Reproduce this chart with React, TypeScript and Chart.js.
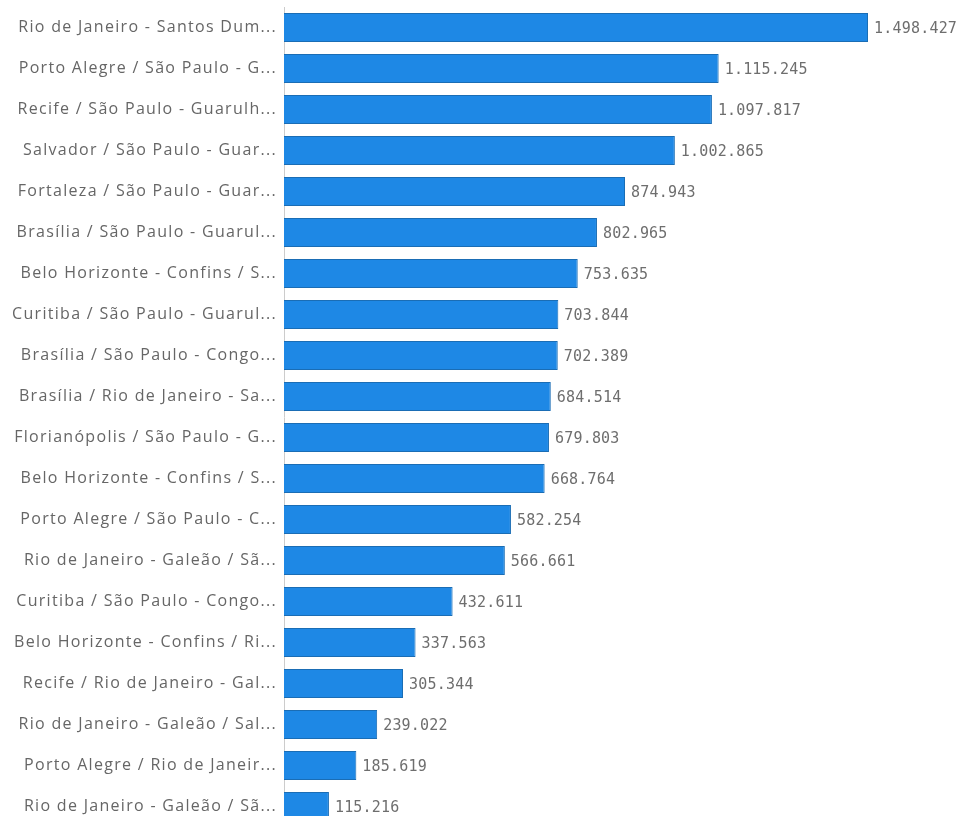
import React, { useEffect, useRef } from "react";
import { Chart, registerables } from "chart.js";

Chart.register(...registerables);

const categories: string[] = [
  "Rio de Janeiro - Santos Dum...",
  "Porto Alegre / São Paulo - G...",
  "Recife / São Paulo - Guarulh...",
  "Salvador / São Paulo - Guar...",
  "Fortaleza / São Paulo - Guar...",
  "Brasília / São Paulo - Guarul...",
  "Belo Horizonte - Confins / S...",
  "Curitiba / São Paulo - Guarul...",
  "Brasília / São Paulo - Congo...",
  "Brasília / Rio de Janeiro - Sa...",
  "Florianópolis / São Paulo - G...",
  "Belo Horizonte - Confins / S...",
  "Porto Alegre / São Paulo - C...",
  "Rio de Janeiro - Galeão / Sã...",
  "Curitiba / São Paulo - Congo...",
  "Belo Horizonte - Confins / Ri...",
  "Recife / Rio de Janeiro - Gal...",
  "Rio de Janeiro - Galeão / Sal...",
  "Porto Alegre / Rio de Janeir...",
  "Rio de Janeiro - Galeão / Sã...",
];

const passengers: number[] = [
  1498427, 1115245, 1097817, 1002865, 874943, 802965, 753635, 703844, 702389,
  684514, 679803, 668764, 582254, 566661, 432611, 337563, 305344, 239022,
  185619, 115216,
];

const X_MAX = 1737000;
const LABEL_SPACING = "1.3px";

const fmt = (v: number) => String(Math.round(v)).replace(/\B(?=(\d{3})+(?!\d))/g, ".");

const spacing = {
  id: "spacing",
  beforeLayout(chart: any) {
    chart.ctx.letterSpacing = LABEL_SPACING;
  },
  beforeDraw(chart: any) {
    chart.ctx.letterSpacing = LABEL_SPACING;
  },
};

const valueLabels = {
  id: "valueLabels",
  afterDatasetsDraw(chart: any) {
    const ctx = chart.ctx;
    const meta = chart.getDatasetMeta(0);
    ctx.save();
    ctx.letterSpacing = "0.2px";
    ctx.font = '15px "DejaVu Sans Mono"';
    ctx.fillStyle = "#6e6e6e";
    ctx.textAlign = "left";
    ctx.textBaseline = "middle";
    meta.data.forEach((el: any, i: number) => {
      const v = chart.data.datasets[0].data[i] as number;
      ctx.fillText(fmt(v), el.x + 6, el.y + 1.5);
    });
    ctx.restore();
  },
};

export default function App() {
  const ref = useRef<HTMLCanvasElement>(null);
  useEffect(() => {
    if (!ref.current) return;
    const chart = new Chart(ref.current, {
      type: "bar",
      data: {
        labels: categories,
        datasets: [
          {
            data: passengers,
            backgroundColor: "#1e88e5",
            borderColor: "#1a6db5",
            borderWidth: 1,
            barPercentage: 0.71,
            categoryPercentage: 1,
          },
        ],
      },
      options: {
        indexAxis: "y",
        animation: false,
        responsive: true,
        maintainAspectRatio: false,
        layout: { padding: { top: 7, right: 0, bottom: 0, left: 0 } },
        plugins: { legend: { display: false }, tooltip: { enabled: false } },
        scales: {
          x: { display: false, min: 0, max: X_MAX },
          y: {
            afterFit: (scale: any) => {
              scale.width = 284;
              scale.paddingTop = 0;
              scale.paddingBottom = 0;
            },
            grid: { display: false, drawTicks: false },
            border: { display: true, color: "#cccccc", width: 1 },
            ticks: {
              padding: 7,
              color: "#666666",
              font: { family: '"Open Sans"', size: 16 },
            },
          },
        },
      },
      plugins: [spacing, valueLabels],
    });
    return () => chart.destroy();
  }, []);
  return (
    <div style={{ position: "fixed", left: 0, top: 0, width: 961, height: 816, overflow: "hidden", background: "#fff" }}>
      <div style={{ position: "relative", width: 961, height: 827 }}>
        <canvas ref={ref} />
      </div>
    </div>
  );
}
